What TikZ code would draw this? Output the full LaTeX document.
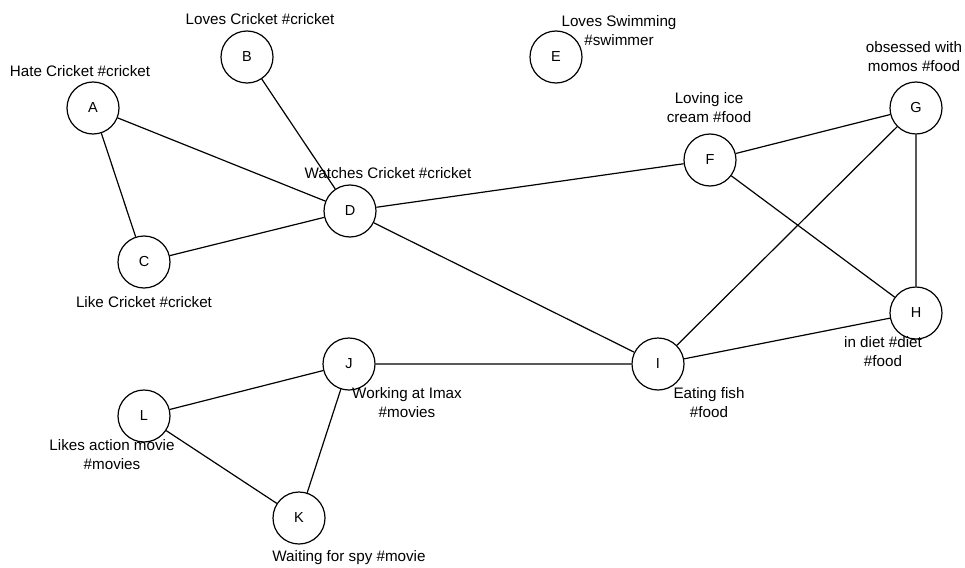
\documentclass[tikz,border=0pt]{standalone}
\usepackage{fontspec}
\setmainfont{Liberation Sans}
\usepackage{tikz}
\usetikzlibrary{positioning,calc}

\begin{document}
\begin{tikzpicture}[x=1pt,y=-1pt,line width=1.2pt,
    person/.style={circle,draw,minimum size=52pt,inner sep=0pt,font=\fontsize{14.5}{17}\selectfont},
    tag/.style={align=center,inner sep=0pt,font=\fontsize{15.2}{19}\selectfont}]
  \useasboundingbox (0,0) rectangle (965,567);
  % people
  \node[person] (A) at (93,108) {A};
  \node[person] (B) at (247,57) {B};
  \node[person] (C) at (144,262) {C};
  \node[person] (D) at (350,211) {D};
  \node[person] (E) at (556,57) {E};
  \node[person] (F) at (710,160) {F};
  \node[person] (G) at (916,108) {G};
  \node[person] (H) at (916,313) {H};
  \node[person] (I) at (658,364) {I};
  \node[person] (J) at (349,364) {J};
  \node[person] (K) at (299,518) {K};
  \node[person] (L) at (144,416) {L};
  % what they like
  \node[tag] (tA) at (80,71) {Hate Cricket \#cricket};
  \node[tag] (tB) at (260,19) {Loves Cricket \#cricket};
  \node[tag] (tC) at (144,302) {Like Cricket \#cricket};
  \node[tag] (tD) at (388,173) {Watches Cricket \#cricket};
  \node[tag] (tE) at (619,31) {Loves Swimming\\\#swimmer};
  \node[tag] (tF) at (709,108) {Loving ice\\cream \#food};
  \node[tag] (tG) at (914,57) {obsessed with\\momos \#food};
  \node[tag] (tH) at (883,352) {in diet \#diet\\\#food};
  \node[tag] (tI) at (709,403) {Eating fish\\\#food};
  \node[tag] (tJ) at (407,403) {Working at Imax\\\#movies};
  \node[tag] (tL) at (112,455) {Likes action movie\\\#movies};
  \node[tag] (tK) at (349,558) {Waiting for spy \#movie};
  % links
  \draw (A)--(C) (A)--(D) (B)--(D) (C)--(D);
  \draw (D)--(F) (D)--(I);
  \draw (F)--(G) (F)--(H) (G)--(H) (G)--(I) (H)--(I);
  \draw (I)--(J) (J)--(L) (J)--(K) (L)--(K);
\end{tikzpicture}
\end{document}
